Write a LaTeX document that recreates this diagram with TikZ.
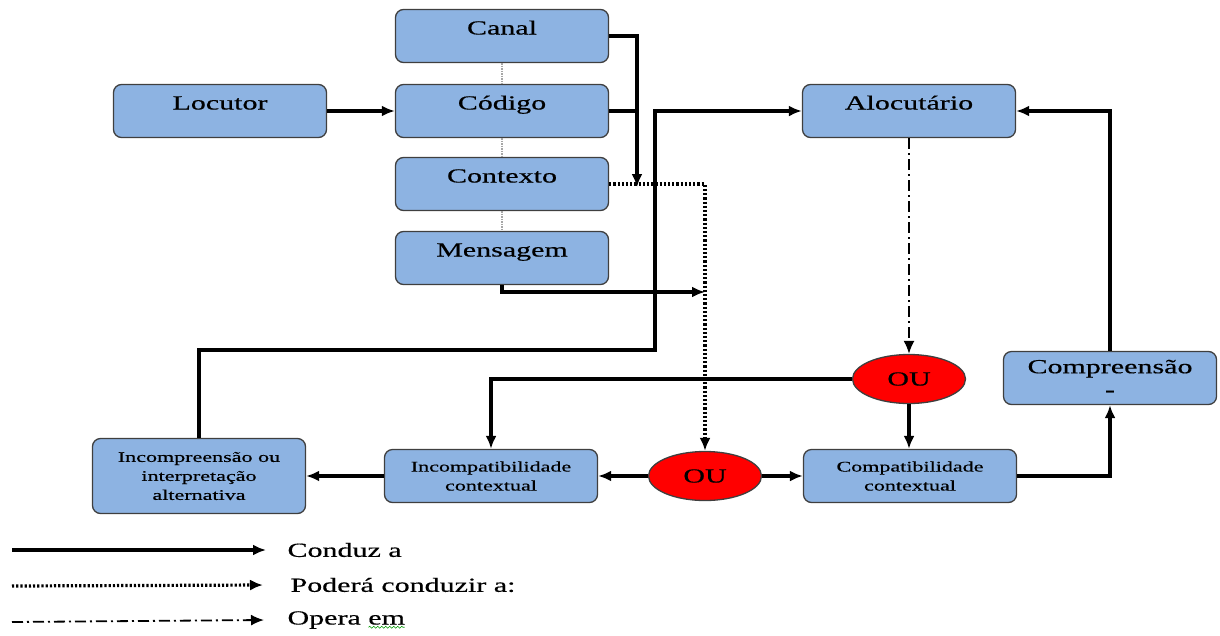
\documentclass[tikz,border=0pt]{standalone}
\usepackage{fontspec}
\setmainfont{Liberation Serif}[FakeStretch=1.5, FakeBold=0.5]
\usetikzlibrary{arrows.meta,shapes.geometric,decorations.pathmorphing}
\definecolor{boxblue}{HTML}{8DB3E2}
\definecolor{boxline}{HTML}{3F3F3F}

\begin{document}
\begin{tikzpicture}[x=1pt, y=-1pt, >={Latex[length=13pt,width=11pt]},
    box/.style={draw=boxline, fill=boxblue, line width=1.3pt, rounded corners=8pt,
        minimum width=213pt, minimum height=53pt, align=center},
    bigbox/.style={box, font=\fontsize{20}{22}\selectfont, text height=14pt, text depth=17pt},
    smallbox/.style={box, font=\fontsize{14.7}{19}\selectfont},
    oubox/.style={ellipse, draw=boxline, fill=red, line width=1.3pt, minimum width=113pt,
        minimum height=49pt, inner sep=0pt, font=\fontsize{20}{22}\selectfont},
    legend/.style={font=\fontsize{20}{22}\selectfont, anchor=west},
    conduz/.style={->, line width=3.2pt},
    podera/.style={->, line width=3.2pt, dash pattern=on 2.2pt off 2pt},
    opera/.style={->, line width=1.8pt, dash pattern=on 11pt off 4pt on 2pt off 4pt},
    elo/.style={black!35, line width=1.8pt, dash pattern=on 1.5pt off 1pt}]
    \useasboundingbox (0,0) rectangle (1220,635);

    \node[bigbox] (canal) at (502,36) {Canal};
    \node[bigbox] (codigo) at (502,111) {Código};
    \node[bigbox] (contexto) at (502,184) {Contexto};
    \node[bigbox] (mensagem) at (502,258) {Mensagem};
    \node[bigbox] (locutor) at (220,111) {Locutor};
    \node[bigbox] (alocutario) at (909,111) {Alocutário};
    \node[box, font=\fontsize{20}{23}\selectfont] (compre) at (1110,378) {Compreensão\\-};
    \node[oubox] (ouA) at (909,379) {OU};
    \node[oubox] (ouB) at (705,476) {OU};
    \node[smallbox] (incompat) at (491,476) {Incompatibilidade\\contextual};
    \node[smallbox] (compat) at (910,476) {Compatibilidade\\contextual};
    \node[smallbox, minimum height=75pt] (incomp) at (199,476) {Incompreensão ou\\interpretação\\alternativa};

    \coordinate (seta) at (637,187);
    \coordinate (msg) at (705,292);
    \coordinate (volta) at (655,350);

    \draw[elo] (canal.south) -- (codigo.north) (codigo.south) -- (contexto.north)
        (contexto.south) -- (mensagem.north);

    \draw[conduz] (locutor) -- (codigo);
    \draw[conduz] (canal.east) -| (seta);
    \draw[line width=3.2pt] (codigo.east) -- (codigo.east -| seta);
    \draw[podera] (contexto.east) -| (ouB.north);
    \draw[conduz] (mensagem.south) |- (msg);
    \draw[conduz] (incomp.north) |- (volta) |- (alocutario.west);
    \draw[opera] (alocutario.south) -- (ouA.north);
    \draw[conduz] (ouA.west) -| (incompat.north);
    \draw[conduz] (ouA.south) -- (ouA.south |- compat.north);
    \draw[conduz] (ouB.west) -- (incompat.east);
    \draw[conduz] (ouB.east) -- (compat.west);
    \draw[conduz] (incompat.west) -- (incomp.east);
    \draw[conduz] (compat.east) -| (compre.south);
    \draw[conduz] (compre.north) |- (alocutario.east);

    % legenda
    \node[legend] (lg1) at (284,550) {Conduz a};
    \node[legend] (lg2) at (287,585) {Poderá conduzir a:};
    \node[legend] (lg3) at (284,620) {Opera em};
    \coordinate (lg1a) at (12,550);
    \coordinate (lg2a) at (12,586);
    \coordinate (lg3a) at (12,622);
    \draw[conduz] (lg1a) -- ([xshift=-18pt]lg1.west);
    \draw[podera] (lg2a) -- ([xshift=-24pt]lg2.west);
    \draw[opera] (lg3a) -- ([xshift=-20pt]lg3.west);
    \draw[green!60!black, line width=0.6pt, decorate, decoration={snake, amplitude=1pt, segment length=4pt}]
        ([xshift=-40pt,yshift=5pt]lg3.south east) -- ([xshift=-4pt,yshift=5pt]lg3.south east);
\end{tikzpicture}
\end{document}
